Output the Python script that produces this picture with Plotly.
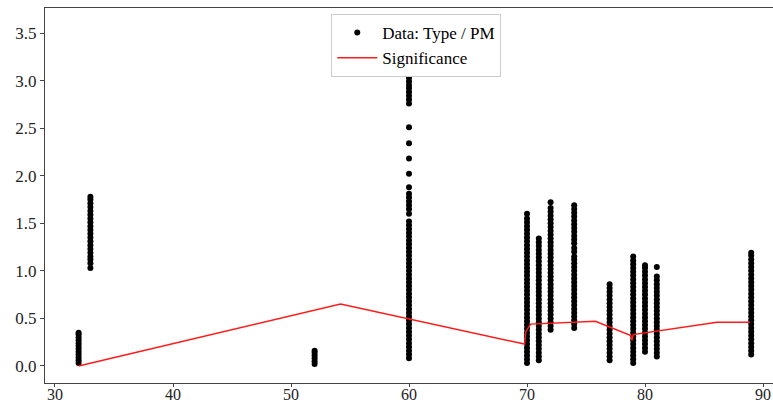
import plotly.graph_objects as go

# ---- data ----
col_x = [32, 33, 52, 60, 70, 71, 72, 74, 77, 79, 80, 81, 89]

col_y = [
    # 32
    [0.03, 0.06, 0.09, 0.12, 0.15, 0.18, 0.21, 0.24, 0.27, 0.30, 0.33, 0.35],
    # 33
    [1.03, 1.08, 1.12, 1.15, 1.19, 1.23, 1.27, 1.31, 1.35, 1.39, 1.43, 1.47,
     1.51, 1.55, 1.59, 1.63, 1.67, 1.71, 1.75, 1.78],
    # 52
    [0.02, 0.05, 0.08, 0.11, 0.14, 0.16],
    # 60
    [0.08, 0.12, 0.16, 0.20, 0.24, 0.28, 0.32, 0.36, 0.40, 0.44, 0.48, 0.52,
     0.56, 0.60, 0.64, 0.68, 0.72, 0.76, 0.80, 0.84, 0.88, 0.92, 0.96, 1.00,
     1.04, 1.08, 1.12, 1.16, 1.20, 1.24, 1.28, 1.32, 1.36, 1.40, 1.44, 1.48,
     1.52, 1.60, 1.65, 1.69, 1.73, 1.77, 1.81, 1.88, 2.02, 2.18, 2.34, 2.51,
     2.76, 2.80, 2.84, 2.88, 2.92, 2.95, 2.99, 3.03, 3.07, 3.11, 3.14, 3.18,
     3.21, 3.25, 3.34, 3.46, 3.58],
    # 70
    [0.03, 0.07, 0.11, 0.15, 0.19, 0.23, 0.27, 0.31, 0.35, 0.39, 0.43, 0.47,
     0.51, 0.55, 0.59, 0.63, 0.67, 0.71, 0.75, 0.79, 0.83, 0.87, 0.91, 0.95,
     0.99, 1.03, 1.07, 1.11, 1.15, 1.19, 1.23, 1.27, 1.31, 1.35, 1.39, 1.43,
     1.47, 1.51, 1.55, 1.60],
    # 71
    [0.06, 0.10, 0.14, 0.18, 0.22, 0.26, 0.30, 0.34, 0.38, 0.42, 0.46, 0.50,
     0.54, 0.58, 0.62, 0.66, 0.70, 0.74, 0.78, 0.82, 0.86, 0.90, 0.94, 0.98,
     1.02, 1.06, 1.10, 1.14, 1.18, 1.22, 1.26, 1.30, 1.34],
    # 72
    [0.38, 0.42, 0.46, 0.50, 0.54, 0.58, 0.62, 0.66, 0.70, 0.74, 0.78, 0.82,
     0.86, 0.90, 0.94, 0.98, 1.02, 1.06, 1.10, 1.14, 1.18, 1.22, 1.26, 1.30,
     1.34, 1.38, 1.42, 1.46, 1.50, 1.54, 1.58, 1.62, 1.66, 1.72],
    # 74
    [0.40, 0.44, 0.48, 0.52, 0.56, 0.60, 0.64, 0.68, 0.72, 0.76, 0.80, 0.84,
     0.88, 0.92, 0.96, 1.00, 1.04, 1.08, 1.12, 1.15, 1.20, 1.24, 1.29, 1.33,
     1.37, 1.41, 1.45, 1.49, 1.53, 1.57, 1.61, 1.65, 1.69],
    # 77
    [0.06, 0.10, 0.14, 0.18, 0.22, 0.26, 0.30, 0.34, 0.38, 0.42, 0.46, 0.50,
     0.54, 0.58, 0.62, 0.66, 0.70, 0.74, 0.78, 0.82, 0.86],
    # 79
    [0.03, 0.07, 0.11, 0.15, 0.19, 0.23, 0.27, 0.31, 0.35, 0.39, 0.43, 0.47,
     0.51, 0.55, 0.59, 0.63, 0.67, 0.71, 0.75, 0.79, 0.83, 0.87, 0.91, 0.95,
     0.99, 1.03, 1.07, 1.11, 1.15],
    # 80
    [0.15, 0.19, 0.23, 0.27, 0.31, 0.35, 0.39, 0.43, 0.47, 0.51, 0.55, 0.59,
     0.63, 0.67, 0.71, 0.75, 0.79, 0.83, 0.87, 0.91, 0.95, 0.99, 1.03, 1.06],
    # 81
    [0.10, 0.14, 0.18, 0.22, 0.26, 0.30, 0.34, 0.38, 0.42, 0.46, 0.50, 0.54,
     0.58, 0.62, 0.66, 0.70, 0.74, 0.78, 0.82, 0.86, 0.90, 0.94, 1.04],
    # 89
    [0.12, 0.16, 0.20, 0.24, 0.28, 0.32, 0.36, 0.40, 0.44, 0.48, 0.52, 0.56,
     0.60, 0.64, 0.68, 0.72, 0.76, 0.80, 0.84, 0.88, 0.92, 0.96, 1.00, 1.04,
     1.08, 1.12, 1.16, 1.19],
]

sig_x = [32, 54.2, 69.8, 69.9, 70.3, 75.8, 78.8, 78.9, 79.0, 86.1, 88.9]
sig_y = [0.0, 0.65, 0.23, 0.36, 0.44, 0.47, 0.32, 0.27, 0.33, 0.46, 0.46]

x_ticks = [30, 40, 50, 60, 70, 80, 90]
y_ticks = [0.0, 0.5, 1.0, 1.5, 2.0, 2.5, 3.0, 3.5]

# ---- build ----
pts_x, pts_y = [], []
for cx, ys in zip(col_x, col_y):
    pts_x.extend([cx] * len(ys))
    pts_y.extend(ys)

FONT = "Liberation Serif, Times New Roman, serif"

fig = go.Figure()
fig.add_trace(go.Scatter(
    x=pts_x, y=pts_y, mode="markers", name="Data: Type / PM",
    marker=dict(color="black", size=6, line=dict(width=0)),
))
fig.add_trace(go.Scatter(
    x=sig_x, y=sig_y, mode="lines", name="Significance",
    line=dict(color="#ff1a1a", width=1.5),
))

fig.update_layout(
    width=773, height=403,
    margin=dict(l=45, r=0, t=8, b=20, autoexpand=False),
    paper_bgcolor="white", plot_bgcolor="white",
    font=dict(family=FONT, size=16, color="#222"),
    showlegend=True,
    legend=dict(
        x=0.51, y=0.984, xanchor="center", yanchor="top",
        bgcolor="white", bordercolor="#cccccc", borderwidth=1,
        font=dict(family=FONT, size=17, color="black"),
        tracegroupgap=0, itemwidth=40,
    ),
)
fig.update_xaxes(
    range=[29.153, 90.847], tickvals=x_ticks, ticktext=[str(v) for v in x_ticks],
    showgrid=False, zeroline=False, showline=True, linecolor="#444", linewidth=1,
    mirror=True, ticks="outside", ticklen=3, tickcolor="#444", automargin=False,
    ticklabelstandoff=-6,
    tickfont=dict(family=FONT, size=16, color="#222"),
)
fig.update_yaxes(
    range=[-0.179, 3.763], tickvals=y_ticks, ticktext=[f"{v:.1f}" for v in y_ticks],
    showgrid=False, zeroline=False, showline=True, linecolor="#444", linewidth=1,
    mirror=False, ticks="outside", ticklen=4, tickcolor="#444", automargin=False,
    tickfont=dict(family=FONT, size=17, color="#222"),
)

fig.write_html(
    "out.html",
    config={"displayModeBar": False},
    post_script="document.body.style.margin='0';document.body.style.overflow='hidden';",
)
